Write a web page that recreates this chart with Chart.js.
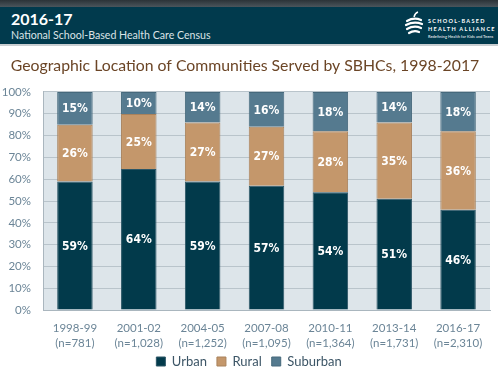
<!DOCTYPE html>
<html><head><meta charset="utf-8">
<script src="https://cdn.jsdelivr.net/npm/chart.js@4.4.1/dist/chart.umd.min.js"></script>
<style>
html,body{margin:0;padding:0;background:#fff;}
#wrap{position:relative;width:498px;height:382px;overflow:hidden;font-family:Lato,"Noto Sans",sans-serif;}
#topstrip{position:absolute;left:0;top:0;width:498px;height:7px;background:linear-gradient(#2b3338,#4b555c);}
#band{position:absolute;left:0;top:7px;width:498px;height:37px;background:#013a4d;}
#rule{position:absolute;left:0;top:44px;width:498px;height:2px;background:#c9ced1;}
#year{position:absolute;left:11px;top:9px;color:#fff;font-weight:700;font-size:16px;line-height:20px;}
#sub{position:absolute;left:11px;top:28px;color:#dbe3e7;font-size:10.6px;line-height:14px;}
#logo{position:absolute;left:404px;top:11px;width:20px;height:26px;}
.lt{position:absolute;left:428px;color:#fff;font-weight:700;white-space:nowrap;}
#l1{top:17px;font-size:5.5px;letter-spacing:1.3px;line-height:8px;}
#l2{top:25px;font-size:5.5px;letter-spacing:1.3px;line-height:8px;}
#l3{top:34px;font-size:4px;line-height:5px;color:#cfd9de;}
#cv{position:absolute;left:0;top:46px;}
</style></head>
<body><div id="wrap">
<div id="topstrip"></div><div id="band"></div><div id="rule"></div>
<div id="year">2016-17</div>
<div id="sub">National School-Based Health Care Census</div>
<svg id="logo" viewBox="0 0 20 26"><g fill="none" stroke="#fff" stroke-width="2.2" stroke-linecap="round">
<path d="M3 10 Q10 6 17 9"/><path d="M2 14 Q10 10 18 13"/><path d="M3 18 Q10 14 17 17"/><path d="M5 22 Q10 19 15 21"/></g>
<path d="M10 6 Q11 2 14 1" stroke="#fff" stroke-width="1.5" fill="none"/></svg>
<div class="lt" id="l1">SCHOOL-BASED</div>
<div class="lt" id="l2">HEALTH ALLIANCE</div>
<div class="lt" id="l3">Redefining Health for Kids and Teens</div>
<canvas id="cv" width="498" height="336"></canvas>
</div>
<script>
const periods = ["1998-99","2001-02","2004-05","2007-08","2010-11","2013-14","2016-17"];
const sampleSizes = ["(n=781)","(n=1,028)","(n=1,252)","(n=1,095)","(n=1,364)","(n=1,731)","(n=2,310)"];
const urban = [59,64,59,57,54,51,46];
const rural = [26,25,27,27,28,35,36];
const suburban = [15,10,14,16,18,14,18];
const yTicks = [0,10,20,30,40,50,60,70,80,90,100];

const totals = urban.map((u,i)=>u+rural[i]+suburban[i]);
const share = arr => arr.map((v,i)=>v/totals[i]*100);

const bgPlugin = {id:'plotBg', beforeDraw(chart){
  const {ctx, chartArea:a} = chart; ctx.save(); ctx.fillStyle='#dde5ea';
  ctx.fillRect(a.left,a.top,a.right-a.left,a.bottom-a.top); ctx.restore();}};
const legendShift = {id:'legendShift', afterLayout(chart){
  const lg = chart.legend; if (lg){ lg.top -= 9; lg.bottom -= 9; lg.left += 4; lg.right += 4; }}};
const labelPlugin = {id:'segLabels', afterDatasetsDraw(chart){
  const ctx = chart.ctx; ctx.save();
  ctx.font = 'bold 12px "DejaVu Sans Condensed","DejaVu Sans",sans-serif';
  ctx.fillStyle='#fff'; ctx.textAlign='center'; ctx.textBaseline='middle';
  chart.data.datasets.forEach((ds,i)=>{
    chart.getDatasetMeta(i).data.forEach((bar,j)=>{
      const p = bar.getProps(['x','y','base'],true);
      ctx.fillText(ds.raw[j]+'%', p.x, (p.y+p.base)/2+1);
    });
  });
  ctx.restore();}};

new Chart(document.getElementById('cv'), {
  type:'bar',
  data:{
    labels: periods.map((p,i)=>[p, sampleSizes[i]]),
    datasets:[
      {label:'Urban', raw:urban, data:share(urban), backgroundColor:'#023a4b', borderColor:'#2c5666', borderWidth:1},
      {label:'Rural', raw:rural, data:share(rural), backgroundColor:'#c4976b', borderColor:'#a9825c', borderWidth:1},
      {label:'Suburban', raw:suburban, data:share(suburban), backgroundColor:'#557a8f', borderColor:'#46697c', borderWidth:1}
    ]
  },
  options:{
    responsive:false, animation:false,
    layout:{padding:{left:0,right:8,top:0,bottom:2}},
    datasets:{bar:{categoryPercentage:0.8, barPercentage:0.695}},
    plugins:{
      title:{display:true, text:'Geographic Location of Communities Served by SBHCs, 1998-2017',
        color:'#6b4526', font:{family:'Lato', size:15.8, weight:'normal'}, padding:{top:10,bottom:17}},
      legend:{position:'bottom', maxHeight:26, labels:{boxWidth:9, boxHeight:9, padding:10, color:'#3c5566',
        font:{family:'Lato', size:13}}},
      tooltip:{enabled:false}
    },
    scales:{
      x:{stacked:true, grid:{display:false}, border:{display:true,color:'#aab6be'},
        ticks:{color:'#6b8597', font:{family:'Lato', size:11.5, lineHeight:1.3}, padding:3, maxRotation:0}},
      y:{stacked:true, min:0, max:100, afterFit(s){s.width=43;},
        afterBuildTicks(s){s.ticks = yTicks.map(v=>({value:v}));},
        grid:{color:'#b9c4cb', drawTicks:false}, border:{display:true,color:'#aab6be'},
        ticks:{color:'#6b8597', font:{family:'Lato', size:11.5}, padding:12, callback:v=>v+'%'}}
    }
  },
  plugins:[bgPlugin, legendShift, labelPlugin]
});
</script>
</body></html>
